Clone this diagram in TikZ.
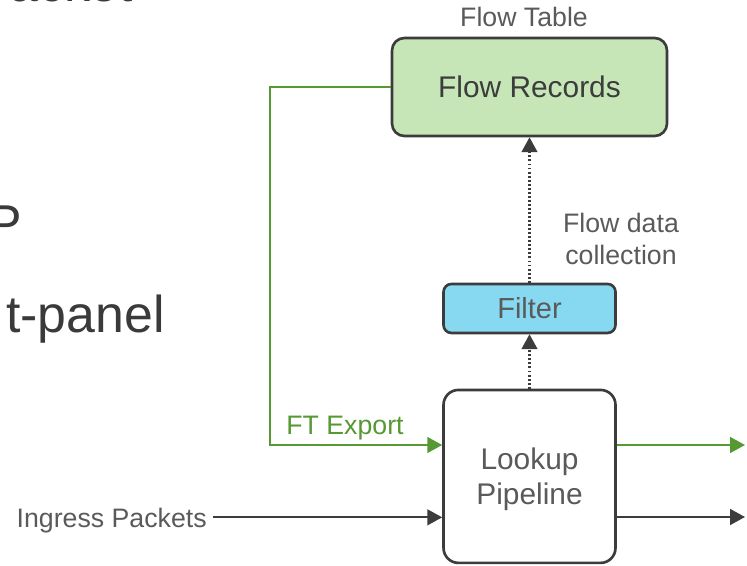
\documentclass[tikz,border=0pt]{standalone}
\usepackage{fontspec}
\setmainfont{Liberation Sans}
\usetikzlibrary{arrows.meta}
\definecolor{ftgreen}{RGB}{86,152,52}
\definecolor{recfill}{RGB}{198,230,184}
\definecolor{filterfill}{RGB}{134,217,240}
\definecolor{boxline}{RGB}{60,60,60}
\definecolor{labelgrey}{RGB}{90,90,90}
\definecolor{slidegrey}{RGB}{58,58,58}
\tikzstyle{tablebox} = [rectangle, 
minimum width=5.5cm, 
minimum height=1.96cm, 
draw=boxline, 
line width=1.5pt, 
fill=recfill, 
text=boxline, 
font=\fontsize{17}{20}\selectfont, 
rounded corners=7pt]
\tikzstyle{filterbox} = [rectangle, 
minimum width=3.44cm, 
minimum height=0.98cm, 
draw=boxline, 
line width=1.5pt, 
fill=filterfill, 
text=labelgrey, 
font=\fontsize{16.5}{20}\selectfont, 
rounded corners=4.5pt]
\tikzstyle{pipebox} = [rectangle, 
minimum width=3.44cm, 
minimum height=3.46cm, 
align=center, 
text depth=-4pt, 
draw=boxline, 
line width=1.5pt, 
fill=white, 
text=labelgrey, 
font=\fontsize{17}{19.8}\selectfont, 
rounded corners=8.5pt]
\tikzstyle{smalltext} = [text=labelgrey, font=\fontsize{15.2}{18}\selectfont]
\tikzstyle{slide} = [text=slidegrey, inner sep=0pt, font=\fontsize{29.5}{35}\selectfont]
\tikzstyle{arrow} = [line width=1.2pt, -{Triangle[length=8.5pt,width=9pt]}]
\tikzstyle{collect} = [arrow, boxline, dash pattern=on 1.1pt off 1.2pt]

\begin{document}
\begin{tikzpicture}[x=0.02cm, y=-0.02cm]
    \useasboundingbox (0,0) rectangle (747,565);

    \node at (9,1) (acket) [slide, anchor=base west] {acket};
    \node at (-13,241) (pbowl) [slide, anchor=base west] {P};
    \node at (165,332) (panel) [slide, anchor=base east] {t-panel};

    \node at (529.5,87) (records) [tablebox] {Flow Records};
    \node at (524,26) (flowtable) [smalltext, anchor=base] {Flow Table};
    \node (filter) [filterbox, below of=records, node distance=4.43cm] {Filter};
    \node (lookup) [pipebox, below of=filter, node distance=3.36cm] {Lookup\\Pipeline};
    \node at (621,239) (collection) [smalltext, align=center] {Flow data\\collection};
    \node at (345,434) (ftexport) [smalltext, anchor=base, text=ftgreen] {FT Export};
    \node at (213,527) (ingress) [smalltext, anchor=base east, text depth=0pt, inner xsep=3.4pt] {Ingress Packets};

    \coordinate (bend) at (270,445);
    \coordinate (greenout) at (745,445);
    \coordinate (blackout) at (745,517);

    \draw [collect] (lookup) -- (filter);
    \draw [collect] (filter) -- (records);
    \draw [arrow, ftgreen] (records.west) -| (bend) -- (lookup.west |- bend);
    \draw [arrow, ftgreen] (lookup.east |- greenout) -- (greenout);
    \draw [arrow, boxline] (ingress.east) -- (lookup.west |- ingress.east);
    \draw [arrow, boxline] (lookup.east |- blackout) -- (blackout);
\end{tikzpicture}
\end{document}
